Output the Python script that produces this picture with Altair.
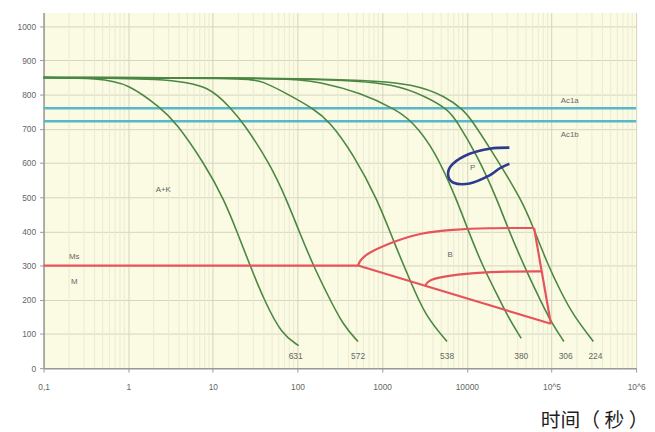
import altair as alt
import pandas as pd

# ---------------- data ----------------
y_ticks = [0, 100, 200, 300, 400, 500, 600, 700, 800, 900, 1000]
x_tick_vals = [0.1, 1, 10, 100, 1000, 10000, 100000, 1000000]
x_tick_labels = ["0,1", "1", "10", "100", "1000", "10000", "10^5", "10^6"]
minor_x = [k * d for d in [0.1, 1, 10, 100, 1000, 10000, 100000] for k in range(2, 10)]

curve_names = ["631", "572", "538", "380", "306", "224"]
c631_t = [0.1, 0.45, 1.0, 2.45, 3.58, 8.0, 13.7, 19.5, 27.7, 40.3, 65.3, 103]
c631_T = [850, 848, 833, 760, 722, 598, 491, 396, 298, 199, 98, 66]
c572_t = [0.1, 2.97, 9.4, 16.1, 22.3, 47.3, 74.8, 106, 155, 219, 347, 519]
c572_T = [850, 848, 824, 760, 722, 598, 491, 396, 298, 222, 124, 78]
c538_t = [0.1, 25.5, 38.2, 74.8, 159, 238, 454, 889, 1367, 2160, 3230, 5840]
c538_T = [850, 848, 840, 803, 757, 722, 627, 491, 370, 254, 153, 78]
c380_t = [0.1, 74.8, 182, 562, 1442, 2275, 4230, 7640, 10280, 15400, 21200, 30100, 43900]
c380_T = [850, 849, 838, 805, 757, 722, 636, 491, 405, 298, 231, 153, 87]
c306_t = [0.1, 287, 1442, 3230, 6000, 7640, 13400, 23000, 30100, 47600, 75200, 98400, 140000]
c306_T = [850, 849, 830, 795, 757, 722, 620, 491, 413, 298, 194, 136, 78]
c224_t = [0.1, 492, 2470, 5540, 8980, 11700, 19600, 45000, 62300, 88300, 128800, 182800, 312600]
c224_T = [850, 849, 830, 795, 757, 722, 636, 491, 405, 309, 223, 153, 78]
curves_t = [c631_t, c572_t, c538_t, c380_t, c306_t, c224_t]
curves_T = [c631_T, c572_T, c538_T, c380_T, c306_T, c224_T]
label_t = [95, 519, 5840, 43900, 147000, 330000]
label_T = [35, 35, 35, 35, 35, 35]

ac_names = ["Ac1a", "Ac1b"]
ac_T = [760, 722]
ac_t = [0.1, 1000000]

ms_t = [0.1, 519]
ms_T = [300, 300]

b_upper_t = [519, 540, 600, 736, 1367, 2820, 6860, 17000, 62300]
b_upper_T = [300, 312, 325, 341, 370, 396, 405, 410, 410]
b_right_t = [62300, 98400]
b_right_T = [410, 130]
b_lower_t = [519, 98400]
b_lower_T = [300, 130]
b_inner_t = [3230, 3400, 5000, 12400, 30000, 77200]
b_inner_T = [240, 255, 268, 279, 283, 283]

p_loop_t = [31800, 18600, 10800, 6860, 6000, 6860, 10800, 18600, 24300, 31800]
p_loop_T = [645, 642, 627, 598, 569, 543, 540, 564, 584, 598]

region_text = ["A+K", "Ms", "M", "B", "P", "Ac1a", "Ac1b"]
region_t = [2.59, 0.23, 0.23, 6330, 11700, 164000, 164000]
region_T = [520, 324, 251, 332, 584, 780, 682]

# ---------------- tables ----------------
cool_rows = []
for name, ts, Ts in zip(curve_names, curves_t, curves_T):
    for i, (t, T) in enumerate(zip(ts, Ts)):
        cool_rows.append({"curve": name, "t": t, "T": T, "i": i})
cool_df = pd.DataFrame(cool_rows)

ac_rows = []
for name, T in zip(ac_names, ac_T):
    for t in ac_t:
        ac_rows.append({"line": name, "t": t, "T": T})
ac_df = pd.DataFrame(ac_rows)


def seg(name, ts, Ts):
    return [{"seg": name, "t": t, "T": T, "i": i} for i, (t, T) in enumerate(zip(ts, Ts))]


red_curve_df = pd.DataFrame(seg("upper", b_upper_t, b_upper_T) + seg("inner", b_inner_t, b_inner_T))
red_lin_df = pd.DataFrame(seg("ms", ms_t, ms_T) + seg("right", b_right_t, b_right_T) + seg("lower", b_lower_t, b_lower_T))
loop_df = pd.DataFrame(seg("P", p_loop_t, p_loop_T))
lab_df = pd.DataFrame({"t": label_t, "T": label_T, "text": curve_names})
reg_df = pd.DataFrame({"t": region_t, "T": region_T, "text": region_text})
minor_df = pd.DataFrame({"t": minor_x})

# ---------------- encodings ----------------
label_expr = "'" + x_tick_labels[-1] + "'"
for v, lab in reversed(list(zip(x_tick_vals[:-1], x_tick_labels[:-1]))):
    label_expr = f"datum.value < {v * 3} ? '{lab}' : " + label_expr

xscale = alt.Scale(type="log", domain=[0.1, 1000000], nice=False)
yscale = alt.Scale(domain=[0, 1040], nice=False, zero=False)

xaxis = alt.Axis(values=x_tick_vals, labelExpr=label_expr, title="时间（ 秒 ）",
                 titleFont="Noto Sans CJK SC", titleFontSize=20,
                 titleFontWeight="normal", titleColor="#1e1e1e", titleBaseline="alphabetic",
                 titleAlign="left", titleAnchor="start", titleX=503, titleY=59, titlePadding=0,
                 grid=True, gridColor="#d3d4bd", gridWidth=1, labelFlush=False,
                 labelFontSize=8.5, labelColor="#666666", labelPadding=11,
                 tickSize=4, tickColor="#999999", domainColor="#999999", domainWidth=1.5)
yaxis = alt.Axis(values=y_ticks, format="d", title=None, grid=True, gridColor="#d3d4bd", gridWidth=1,
                 labelFontSize=8.5, labelColor="#666666", labelPadding=4, labelFlush=False,
                 tickSize=4, tickColor="#999999", domainColor="#999999", domainWidth=1.5)

X = alt.X("t:Q", scale=xscale, axis=xaxis)
Y = alt.Y("T:Q", scale=yscale, axis=yaxis)

minor = alt.Chart(minor_df).mark_rule(color="#ebebd4", strokeWidth=1).encode(x=X)

cool = alt.Chart(cool_df).mark_line(color="#4a8743", strokeWidth=1.6, interpolate="basis").encode(
    x=X, y=Y, detail="curve:N", order="i:Q")

ac = alt.Chart(ac_df).mark_line(color="#55b8cb", strokeWidth=2.6).encode(x=X, y=Y, detail="line:N")

red_lin = alt.Chart(red_lin_df).mark_line(color="#e4545a", strokeWidth=2.2).encode(
    x=X, y=Y, detail="seg:N", order="i:Q")
red_curve = alt.Chart(red_curve_df).mark_line(color="#e4545a", strokeWidth=2.2, interpolate="basis").encode(
    x=X, y=Y, detail="seg:N", order="i:Q")

loop = alt.Chart(loop_df).mark_line(color="#2d3a8e", strokeWidth=2.6, interpolate="cardinal").encode(
    x=X, y=Y, order="i:Q")

labels = alt.Chart(lab_df).mark_text(fontSize=8.5, color="#666666", font="Liberation Sans").encode(
    x=X, y=Y, text="text:N")
regions = alt.Chart(reg_df).mark_text(fontSize=8, color="#666666", font="Liberation Sans").encode(
    x=X, y=Y, text="text:N")

chart = alt.layer(minor, ac, cool, red_lin, red_curve, loop, labels, regions).properties(
    width=600, height=360, autosize="none",
    padding={"left": 36, "top": 2, "right": 11, "bottom": 62},
    background="white",
).configure_view(fill="#fbfbe3", strokeOpacity=0).configure_axis(labelFont="Liberation Sans")

chart.save("out.html", embed_options={"renderer": "svg", "actions": False})
